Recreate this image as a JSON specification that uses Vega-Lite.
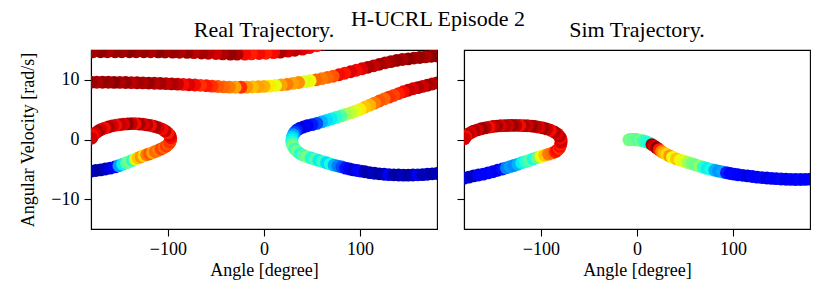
{
  "$schema": "https://vega.github.io/schema/vega-lite/v6.json",
  "padding": {"left": 19, "top": 8, "right": 5, "bottom": 5},
  "spacing": 17,
  "config": {
    "font": "Liberation Serif",
    "view": {"stroke": "black", "strokeWidth": 1.1},
    "axis": {"grid": false, "domainColor": "black", "domainWidth": 1.1, "tickColor": "black", "tickWidth": 1.1, "tickSize": 7, "labelFont": "Liberation Serif", "labelFontSize": 18, "labelColor": "black", "labelPadding": 5, "titleFont": "Liberation Serif", "titleFontSize": 18, "titleFontWeight": "normal", "titleColor": "black"},
    "axisX": {"titlePadding": 3, "labelPadding": 4},
    "axisY": {"titlePadding": 13},
    "title": {"font": "Liberation Serif", "fontSize": 22, "fontWeight": "normal", "color": "black", "offset": 8}
  },
  "title": {"text": "H-UCRL Episode 2", "anchor": "middle", "offset": -13, "dx": 23},
  "datasets": {
    "real": [
      {"a":62,"v":16.0,"c":0.9},{"a":55,"v":15.7,"c":0.88},{"a":47,"v":15.4,"c":0.9},{"a":40,"v":15.15,"c":0.92},{"a":32,"v":14.95,"c":0.95},{"a":25,"v":14.8,"c":0.93},{"a":17,"v":14.65,"c":0.96},{"a":10,"v":14.55,"c":0.9},{"a":2,"v":14.45,"c":0.88},{"a":-5,"v":14.4,"c":0.9},{"a":-13,"v":14.35,"c":0.88},{"a":-20,"v":14.3,"c":0.9},{"a":-28,"v":14.3,"c":0.96},{"a":-35,"v":14.3,"c":0.98},{"a":-43,"v":14.35,"c":0.96},{"a":-50,"v":14.4,"c":0.93},{"a":-58,"v":14.45,"c":0.95},{"a":-65,"v":14.5,"c":0.97},{"a":-73,"v":14.55,"c":0.95},{"a":-80,"v":14.6,"c":0.98},{"a":-88,"v":14.62,"c":0.96},{"a":-95,"v":14.65,"c":0.98},{"a":-103,"v":14.67,"c":0.97},{"a":-110,"v":14.68,"c":0.99},{"a":-118,"v":14.7,"c":0.96},{"a":-125,"v":14.7,"c":0.98},{"a":-133,"v":14.7,"c":0.97},{"a":-140,"v":14.7,"c":0.99},{"a":-148,"v":14.7,"c":0.97},{"a":-155,"v":14.7,"c":0.98},{"a":-163,"v":14.7,"c":0.96},{"a":-170,"v":14.7,"c":0.99},{"a":-178,"v":14.7,"c":0.97},
      {"a":180,"v":14.0,"c":0.97},{"a":174,"v":13.95,"c":0.99},{"a":168,"v":13.85,"c":0.96},{"a":162,"v":13.75,"c":0.98},{"a":156,"v":13.65,"c":0.97},{"a":150,"v":13.5,"c":0.99},{"a":144,"v":13.4,"c":0.96},{"a":138,"v":13.25,"c":0.98},{"a":132,"v":13.05,"c":0.97},{"a":126,"v":12.85,"c":0.95},{"a":120,"v":12.6,"c":0.97},{"a":114,"v":12.35,"c":0.94},{"a":108,"v":12.1,"c":0.96},{"a":102,"v":11.85,"c":0.92},{"a":96,"v":11.6,"c":0.9},{"a":90,"v":11.35,"c":0.92},{"a":84,"v":11.1,"c":0.89},{"a":78,"v":10.85,"c":0.9},{"a":72,"v":10.6,"c":0.82},{"a":66,"v":10.4,"c":0.8},{"a":60,"v":10.2,"c":0.78},{"a":54,"v":10.0,"c":0.8},{"a":48,"v":9.85,"c":0.64},{"a":42,"v":9.7,"c":0.62},{"a":36,"v":9.55,"c":0.76},{"a":30,"v":9.4,"c":0.74},{"a":24,"v":9.25,"c":0.78},{"a":18,"v":9.15,"c":0.74},{"a":12,"v":9.05,"c":0.63},{"a":6,"v":8.95,"c":0.66},{"a":0,"v":8.9,"c":0.72},{"a":-6,"v":8.85,"c":0.74},{"a":-12,"v":8.8,"c":0.71},{"a":-18,"v":8.78,"c":0.75},{"a":-24,"v":8.75,"c":0.86},{"a":-30,"v":8.75,"c":0.74},{"a":-36,"v":8.78,"c":0.78},{"a":-42,"v":8.82,"c":0.8},{"a":-48,"v":8.88,"c":0.82},{"a":-54,"v":8.95,"c":0.86},{"a":-60,"v":9.02,"c":0.89},{"a":-66,"v":9.08,"c":0.86},{"a":-72,"v":9.13,"c":0.9},{"a":-78,"v":9.18,"c":0.92},{"a":-84,"v":9.23,"c":0.9},{"a":-90,"v":9.28,"c":0.94},{"a":-96,"v":9.32,"c":0.96},{"a":-102,"v":9.36,"c":0.94},{"a":-108,"v":9.4,"c":0.97},{"a":-114,"v":9.43,"c":0.95},{"a":-120,"v":9.46,"c":0.98},{"a":-126,"v":9.49,"c":0.96},{"a":-132,"v":9.51,"c":0.97},{"a":-138,"v":9.53,"c":0.95},{"a":-144,"v":9.55,"c":0.98},{"a":-150,"v":9.57,"c":0.96},{"a":-156,"v":9.58,"c":0.99},{"a":-162,"v":9.6,"c":0.97},{"a":-168,"v":9.6,"c":0.98},{"a":-174,"v":9.6,"c":0.96},{"a":-180,"v":9.6,"c":0.98},
      {"a":180,"v":9.5,"c":0.97},{"a":175,"v":9.3,"c":0.95},{"a":170,"v":9.1,"c":0.97},{"a":165,"v":8.9,"c":0.93},{"a":160,"v":8.7,"c":0.96},{"a":155,"v":8.5,"c":0.92},{"a":150,"v":8.25,"c":0.94},{"a":145,"v":8.0,"c":0.9},{"a":140,"v":7.7,"c":0.88},{"a":135,"v":7.4,"c":0.84},{"a":130,"v":7.1,"c":0.86},{"a":125,"v":6.8,"c":0.8},{"a":120,"v":6.45,"c":0.82},{"a":115,"v":6.1,"c":0.78},{"a":110,"v":5.75,"c":0.72},{"a":105,"v":5.4,"c":0.7},{"a":100,"v":5.05,"c":0.66},{"a":95,"v":4.75,"c":0.62},{"a":90,"v":4.45,"c":0.58},{"a":85,"v":4.2,"c":0.55},{"a":80,"v":3.95,"c":0.45},{"a":75,"v":3.7,"c":0.4},{"a":70,"v":3.45,"c":0.36},{"a":65,"v":3.2,"c":0.34},{"a":60,"v":2.95,"c":0.3},{"a":55,"v":2.7,"c":0.2},{"a":50,"v":2.5,"c":0.15},{"a":45,"v":2.3,"c":0.1},{"a":41,"v":2.1,"c":0.12},{"a":37,"v":1.85,"c":0.08},{"a":34,"v":1.55,"c":0.15},{"a":32,"v":1.2,"c":0.2},{"a":30.5,"v":0.8,"c":0.28},{"a":29.5,"v":0.4,"c":0.33},{"a":29,"v":0,"c":0.36},
      {"a":29,"v":-0.4,"c":0.38},{"a":29.5,"v":-0.8,"c":0.45},{"a":30.5,"v":-1.2,"c":0.5},{"a":32,"v":-1.6,"c":0.42},{"a":34.5,"v":-2.0,"c":0.5},{"a":37.5,"v":-2.35,"c":0.4},{"a":41,"v":-2.65,"c":0.45},{"a":45,"v":-2.9,"c":0.5},{"a":49,"v":-3.1,"c":0.38},{"a":53,"v":-3.3,"c":0.45},{"a":57,"v":-3.5,"c":0.36},{"a":61,"v":-3.7,"c":0.42},{"a":65,"v":-3.9,"c":0.34},{"a":69,"v":-4.1,"c":0.38},{"a":73,"v":-4.3,"c":0.3},{"a":77,"v":-4.45,"c":0.25},{"a":81,"v":-4.6,"c":0.2},{"a":85,"v":-4.8,"c":0.14},{"a":89,"v":-4.95,"c":0.12},{"a":93,"v":-5.1,"c":0.07},{"a":97,"v":-5.2,"c":0.1},{"a":101,"v":-5.3,"c":0.13},{"a":105,"v":-5.4,"c":0.05},{"a":110,"v":-5.55,"c":0.04},{"a":115,"v":-5.65,"c":0.06},{"a":120,"v":-5.75,"c":0.03},{"a":125,"v":-5.82,"c":0.05},{"a":130,"v":-5.88,"c":0.1},{"a":135,"v":-5.92,"c":0.04},{"a":140,"v":-5.95,"c":0.03},{"a":145,"v":-5.97,"c":0.06},{"a":150,"v":-5.97,"c":0.03},{"a":155,"v":-5.95,"c":0.05},{"a":160,"v":-5.92,"c":0.1},{"a":165,"v":-5.88,"c":0.04},{"a":170,"v":-5.82,"c":0.06},{"a":175,"v":-5.75,"c":0.03},{"a":180,"v":-5.7,"c":0.05},
      {"a":-180,"v":-5.3,"c":0.04},{"a":-175,"v":-5.2,"c":0.05},{"a":-170,"v":-5.1,"c":0.03},{"a":-165,"v":-4.95,"c":0.06},{"a":-160,"v":-4.8,"c":0.08},{"a":-155,"v":-4.6,"c":0.13},{"a":-151,"v":-4.4,"c":0.28},{"a":-147,"v":-4.15,"c":0.36},{"a":-143,"v":-3.9,"c":0.45},{"a":-140,"v":-3.7,"c":0.5},{"a":-137,"v":-3.5,"c":0.4},{"a":-134,"v":-3.3,"c":0.62},{"a":-131,"v":-3.1,"c":0.7},{"a":-128,"v":-2.9,"c":0.75},{"a":-125,"v":-2.7,"c":0.68},{"a":-122,"v":-2.55,"c":0.78},{"a":-119,"v":-2.4,"c":0.82},{"a":-116,"v":-2.2,"c":0.74},{"a":-113,"v":-2.0,"c":0.8},{"a":-110,"v":-1.8,"c":0.78},{"a":-107,"v":-1.6,"c":0.84},{"a":-104,"v":-1.35,"c":0.8},{"a":-101.5,"v":-1.1,"c":0.85},{"a":-99.5,"v":-0.8,"c":0.82},{"a":-98,"v":-0.45,"c":0.86},{"a":-97,"v":-0.1,"c":0.85},
      {"a":-97,"v":0.3,"c":0.9},{"a":-98,"v":0.7,"c":0.92},{"a":-100,"v":1.1,"c":0.88},{"a":-103,"v":1.45,"c":0.94},{"a":-106,"v":1.75,"c":0.9},{"a":-110,"v":2.0,"c":0.93},{"a":-114,"v":2.2,"c":0.97},{"a":-118,"v":2.35,"c":0.9},{"a":-122,"v":2.45,"c":0.95},{"a":-126,"v":2.55,"c":0.92},{"a":-130,"v":2.6,"c":0.97},{"a":-134,"v":2.65,"c":0.9},{"a":-138,"v":2.65,"c":0.94},{"a":-142,"v":2.62,"c":0.98},{"a":-146,"v":2.58,"c":0.92},{"a":-150,"v":2.5,"c":0.95},{"a":-154,"v":2.4,"c":0.9},{"a":-158,"v":2.28,"c":0.93},{"a":-162,"v":2.1,"c":0.96},{"a":-166,"v":1.9,"c":0.9},{"a":-170,"v":1.65,"c":0.93},{"a":-173,"v":1.35,"c":0.96},{"a":-176,"v":1.0,"c":0.92},{"a":-178,"v":0.6,"c":0.9},{"a":-179.5,"v":0.2,"c":0.93}
    ],
    "sim": [
      {"a":-8.5,"v":-0.05,"c":0.5},{"a":-7,"v":0.02,"c":0.48},{"a":-5.5,"v":0.0,"c":0.5},{"a":-4,"v":0.02,"c":0.46},{"a":-2.5,"v":-0.02,"c":0.5},{"a":-1,"v":0.0,"c":0.48},{"a":1,"v":-0.08,"c":0.45},{"a":4,"v":-0.15,"c":0.5},{"a":7,"v":-0.25,"c":0.42},{"a":10,"v":-0.4,"c":0.4},{"a":13,"v":-0.6,"c":0.38},{"a":15.5,"v":-0.85,"c":0.97},{"a":18,"v":-1.1,"c":0.92},{"a":20.5,"v":-1.4,"c":0.99},{"a":23,"v":-1.7,"c":0.88},{"a":25.5,"v":-2.0,"c":0.78},{"a":28,"v":-2.25,"c":0.72},{"a":31,"v":-2.5,"c":0.68},{"a":34,"v":-2.75,"c":0.75},{"a":37,"v":-3.0,"c":0.64},{"a":41,"v":-3.25,"c":0.7},{"a":45,"v":-3.45,"c":0.65},{"a":49,"v":-3.65,"c":0.62},{"a":53,"v":-3.85,"c":0.55},{"a":57,"v":-4.05,"c":0.5},{"a":61,"v":-4.25,"c":0.48},{"a":65,"v":-4.45,"c":0.52},{"a":69,"v":-4.65,"c":0.4},{"a":73,"v":-4.85,"c":0.36},{"a":77,"v":-5.0,"c":0.38},{"a":81,"v":-5.15,"c":0.3},{"a":85,"v":-5.3,"c":0.27},{"a":89,"v":-5.45,"c":0.29},{"a":93,"v":-5.58,"c":0.15},{"a":97,"v":-5.7,"c":0.12},{"a":101,"v":-5.8,"c":0.13},{"a":105,"v":-5.9,"c":0.11},{"a":110,"v":-6.0,"c":0.12},{"a":115,"v":-6.1,"c":0.08},{"a":120,"v":-6.2,"c":0.12},{"a":125,"v":-6.3,"c":0.1},{"a":130,"v":-6.38,"c":0.13},{"a":135,"v":-6.45,"c":0.08},{"a":140,"v":-6.52,"c":0.12},{"a":145,"v":-6.57,"c":0.1},{"a":150,"v":-6.62,"c":0.13},{"a":155,"v":-6.66,"c":0.09},{"a":160,"v":-6.69,"c":0.12},{"a":165,"v":-6.7,"c":0.1},{"a":170,"v":-6.7,"c":0.13},{"a":175,"v":-6.68,"c":0.1},{"a":180,"v":-6.65,"c":0.12},
      {"a":-180,"v":-6.5,"c":0.05},{"a":-175,"v":-6.3,"c":0.07},{"a":-170,"v":-6.1,"c":0.05},{"a":-165,"v":-5.95,"c":0.1},{"a":-160,"v":-5.8,"c":0.12},{"a":-155,"v":-5.6,"c":0.11},{"a":-150,"v":-5.4,"c":0.13},{"a":-145,"v":-5.15,"c":0.1},{"a":-140,"v":-4.95,"c":0.14},{"a":-136,"v":-4.75,"c":0.25},{"a":-132,"v":-4.55,"c":0.28},{"a":-128,"v":-4.35,"c":0.26},{"a":-124,"v":-4.15,"c":0.3},{"a":-120,"v":-3.9,"c":0.36},{"a":-116,"v":-3.7,"c":0.4},{"a":-112,"v":-3.5,"c":0.45},{"a":-108,"v":-3.25,"c":0.38},{"a":-104,"v":-3.05,"c":0.48},{"a":-100,"v":-2.85,"c":0.64},{"a":-96,"v":-2.65,"c":0.7},{"a":-92,"v":-2.45,"c":0.78},{"a":-88,"v":-2.25,"c":0.8},{"a":-85,"v":-2.05,"c":0.88},{"a":-83,"v":-1.8,"c":0.9},{"a":-81,"v":-1.5,"c":0.86},{"a":-80,"v":-1.15,"c":0.9},{"a":-79.3,"v":-0.8,"c":0.88},{"a":-79,"v":-0.45,"c":0.92},
      {"a":-79,"v":-0.1,"c":0.93},{"a":-79.5,"v":0.25,"c":0.9},{"a":-81,"v":0.6,"c":0.95},{"a":-83,"v":0.95,"c":0.92},{"a":-86,"v":1.25,"c":0.96},{"a":-90,"v":1.55,"c":0.9},{"a":-94,"v":1.78,"c":0.94},{"a":-98,"v":1.95,"c":0.97},{"a":-102,"v":2.08,"c":0.92},{"a":-106,"v":2.18,"c":0.95},{"a":-110,"v":2.25,"c":0.98},{"a":-114,"v":2.3,"c":0.93},{"a":-118,"v":2.33,"c":0.96},{"a":-122,"v":2.35,"c":0.9},{"a":-126,"v":2.36,"c":0.95},{"a":-130,"v":2.36,"c":0.98},{"a":-134,"v":2.35,"c":0.93},{"a":-138,"v":2.33,"c":0.96},{"a":-142,"v":2.3,"c":0.92},{"a":-146,"v":2.25,"c":0.97},{"a":-150,"v":2.18,"c":0.94},{"a":-154,"v":2.08,"c":0.9},{"a":-158,"v":1.95,"c":0.95},{"a":-162,"v":1.8,"c":0.98},{"a":-166,"v":1.62,"c":0.93},{"a":-170,"v":1.4,"c":0.96},{"a":-173,"v":1.15,"c":0.92},{"a":-176,"v":0.85,"c":0.95},{"a":-178,"v":0.5,"c":0.9},{"a":-179.5,"v":0.15,"c":0.93}
    ]
  },
  "hconcat": [
    {
      "width": 346, "height": 179,
      "title": "Real Trajectory.",
      "data": {"name": "real"},
      "mark": {"type": "circle", "size": 165, "opacity": 1, "clip": true},
      "encoding": {
        "x": {"field": "a", "type": "quantitative", "scale": {"domain": [-180, 180], "nice": false, "zero": false}, "axis": {"title": "Angle [degree]", "values": [-100, 0, 100]}},
        "y": {"field": "v", "type": "quantitative", "scale": {"domain": [-15, 15], "nice": false, "zero": false}, "axis": {"title": "Angular Velocity [rad/s]", "values": [-10, 0, 10]}},
        "color": {"field": "c", "type": "quantitative", "scale": {"domain": [0, 0.11, 0.125, 0.34, 0.375, 0.64, 0.66, 0.89, 0.91, 1], "range": ["#000080", "#0000ff", "#0000ff", "#00dbff", "#14ffe2", "#eeff08", "#ffec00", "#ff1300", "#e80000", "#800000"], "interpolate": "rgb"}, "legend": null}
      }
    },
    {
      "width": 346, "height": 179,
      "title": "Sim Trajectory.",
      "data": {"name": "sim"},
      "mark": {"type": "circle", "size": 165, "opacity": 1, "clip": true},
      "encoding": {
        "x": {"field": "a", "type": "quantitative", "scale": {"domain": [-180, 180], "nice": false, "zero": false}, "axis": {"title": "Angle [degree]", "values": [-100, 0, 100]}},
        "y": {"field": "v", "type": "quantitative", "scale": {"domain": [-15, 15], "nice": false, "zero": false}, "axis": {"title": null, "labels": false, "values": [-10, 0, 10]}},
        "color": {"field": "c", "type": "quantitative", "scale": {"domain": [0, 0.11, 0.125, 0.34, 0.375, 0.64, 0.66, 0.89, 0.91, 1], "range": ["#000080", "#0000ff", "#0000ff", "#00dbff", "#14ffe2", "#eeff08", "#ffec00", "#ff1300", "#e80000", "#800000"], "interpolate": "rgb"}, "legend": null}
      }
    }
  ]
}
